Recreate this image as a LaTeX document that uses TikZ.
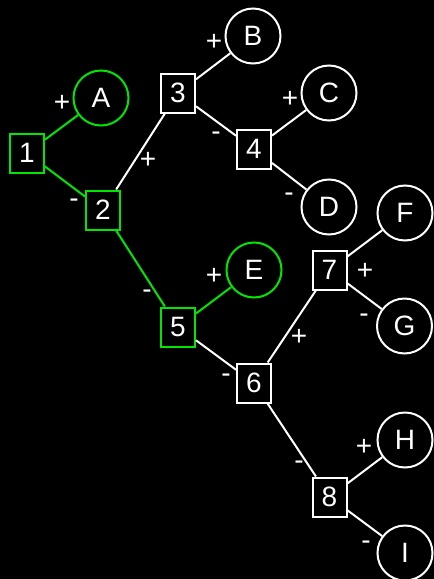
\documentclass[tikz,border=0pt]{standalone}
\usepackage{fontspec}
\setmainfont{Liberation Sans}
\definecolor{tgreen}{RGB}{0,230,0}
\begin{document}
\begin{tikzpicture}[x=1pt,y=-1pt,
  nfont/.style={font=\fontsize{28}{28}\selectfont},
  sq/.style={draw=white, fill=black, line width=2pt, minimum width=34pt, minimum height=39pt, inner sep=0pt, text=white, nfont},
  circ/.style={circle, draw=white, fill=black, line width=2pt, minimum size=55pt, inner sep=0pt, text=white, nfont},
  gr/.style={draw=tgreen},
  edge/.style={draw=white, line width=2pt},
  gedge/.style={draw=tgreen, line width=2pt},
  lab/.style={anchor=base, inner sep=0pt, text=white, nfont}]
\fill[black] (0,0) rectangle (434,579);
\useasboundingbox (0,0) rectangle (434,579);
% nodes
\node[sq,gr] (n1) at (27,153) {1};
\node[circ,gr] (A) at (101,98) {A};
\node[sq,gr] (n2) at (103,210) {2};
\node[sq] (n3) at (178,93) {3};
\node[circ] (B) at (253,36) {B};
\node[sq] (n4) at (254,149) {4};
\node[circ] (C) at (329,93) {C};
\node[circ] (D) at (329,207) {D};
\node[sq,gr] (n5) at (178,327) {5};
\node[circ,gr] (E) at (254,270) {E};
\node[sq] (n6) at (254,383) {6};
\node[sq] (n7) at (329.5,270) {7};
\node[circ] (F) at (405,213) {F};
\node[circ] (G) at (404.5,326) {G};
\node[sq] (n8) at (329.5,497) {8};
\node[circ] (H) at (405,440) {H};
\node[circ] (I) at (405,553) {I};
% edges
\draw[gedge] (n1) -- (A);
\draw[gedge] (n1) -- (n2);
\draw[edge] (n2) -- (n3);
\draw[gedge] (n2) -- (n5);
\draw[edge] (n3) -- (B);
\draw[edge] (n3) -- (n4);
\draw[edge] (n4) -- (C);
\draw[edge] (n4) -- (D);
\draw[gedge] (n5) -- (E);
\draw[edge] (n5) -- (n6);
\draw[edge] (n6) -- (n7);
\draw[edge] (n6) -- (n8);
\draw[edge] (n7) -- (F);
\draw[edge] (n7) -- (G);
\draw[edge] (n8) -- (H);
\draw[edge] (n8) -- (I);
% edge labels
\node[lab] (l1A) at (62,111) {+};
\node[lab] (l12) at (74,207) {-};
\node[lab] (l23) at (148,168) {+};
\node[lab] (l3B) at (214,50) {+};
\node[lab] (l34) at (216,140) {-};
\node[lab] (l4C) at (290,107) {+};
\node[lab] (l4D) at (289,201) {-};
\node[lab] (l25) at (147,298) {-};
\node[lab] (l5E) at (214,284) {+};
\node[lab] (l56) at (226,382) {-};
\node[lab] (l67) at (299,345) {+};
\node[lab] (l7F) at (365,279) {+};
\node[lab] (l7G) at (364,322) {-};
\node[lab] (l68) at (299,469) {-};
\node[lab] (l8H) at (364,455) {+};
\node[lab] (l8I) at (366,549) {-};
\end{tikzpicture}
\end{document}
